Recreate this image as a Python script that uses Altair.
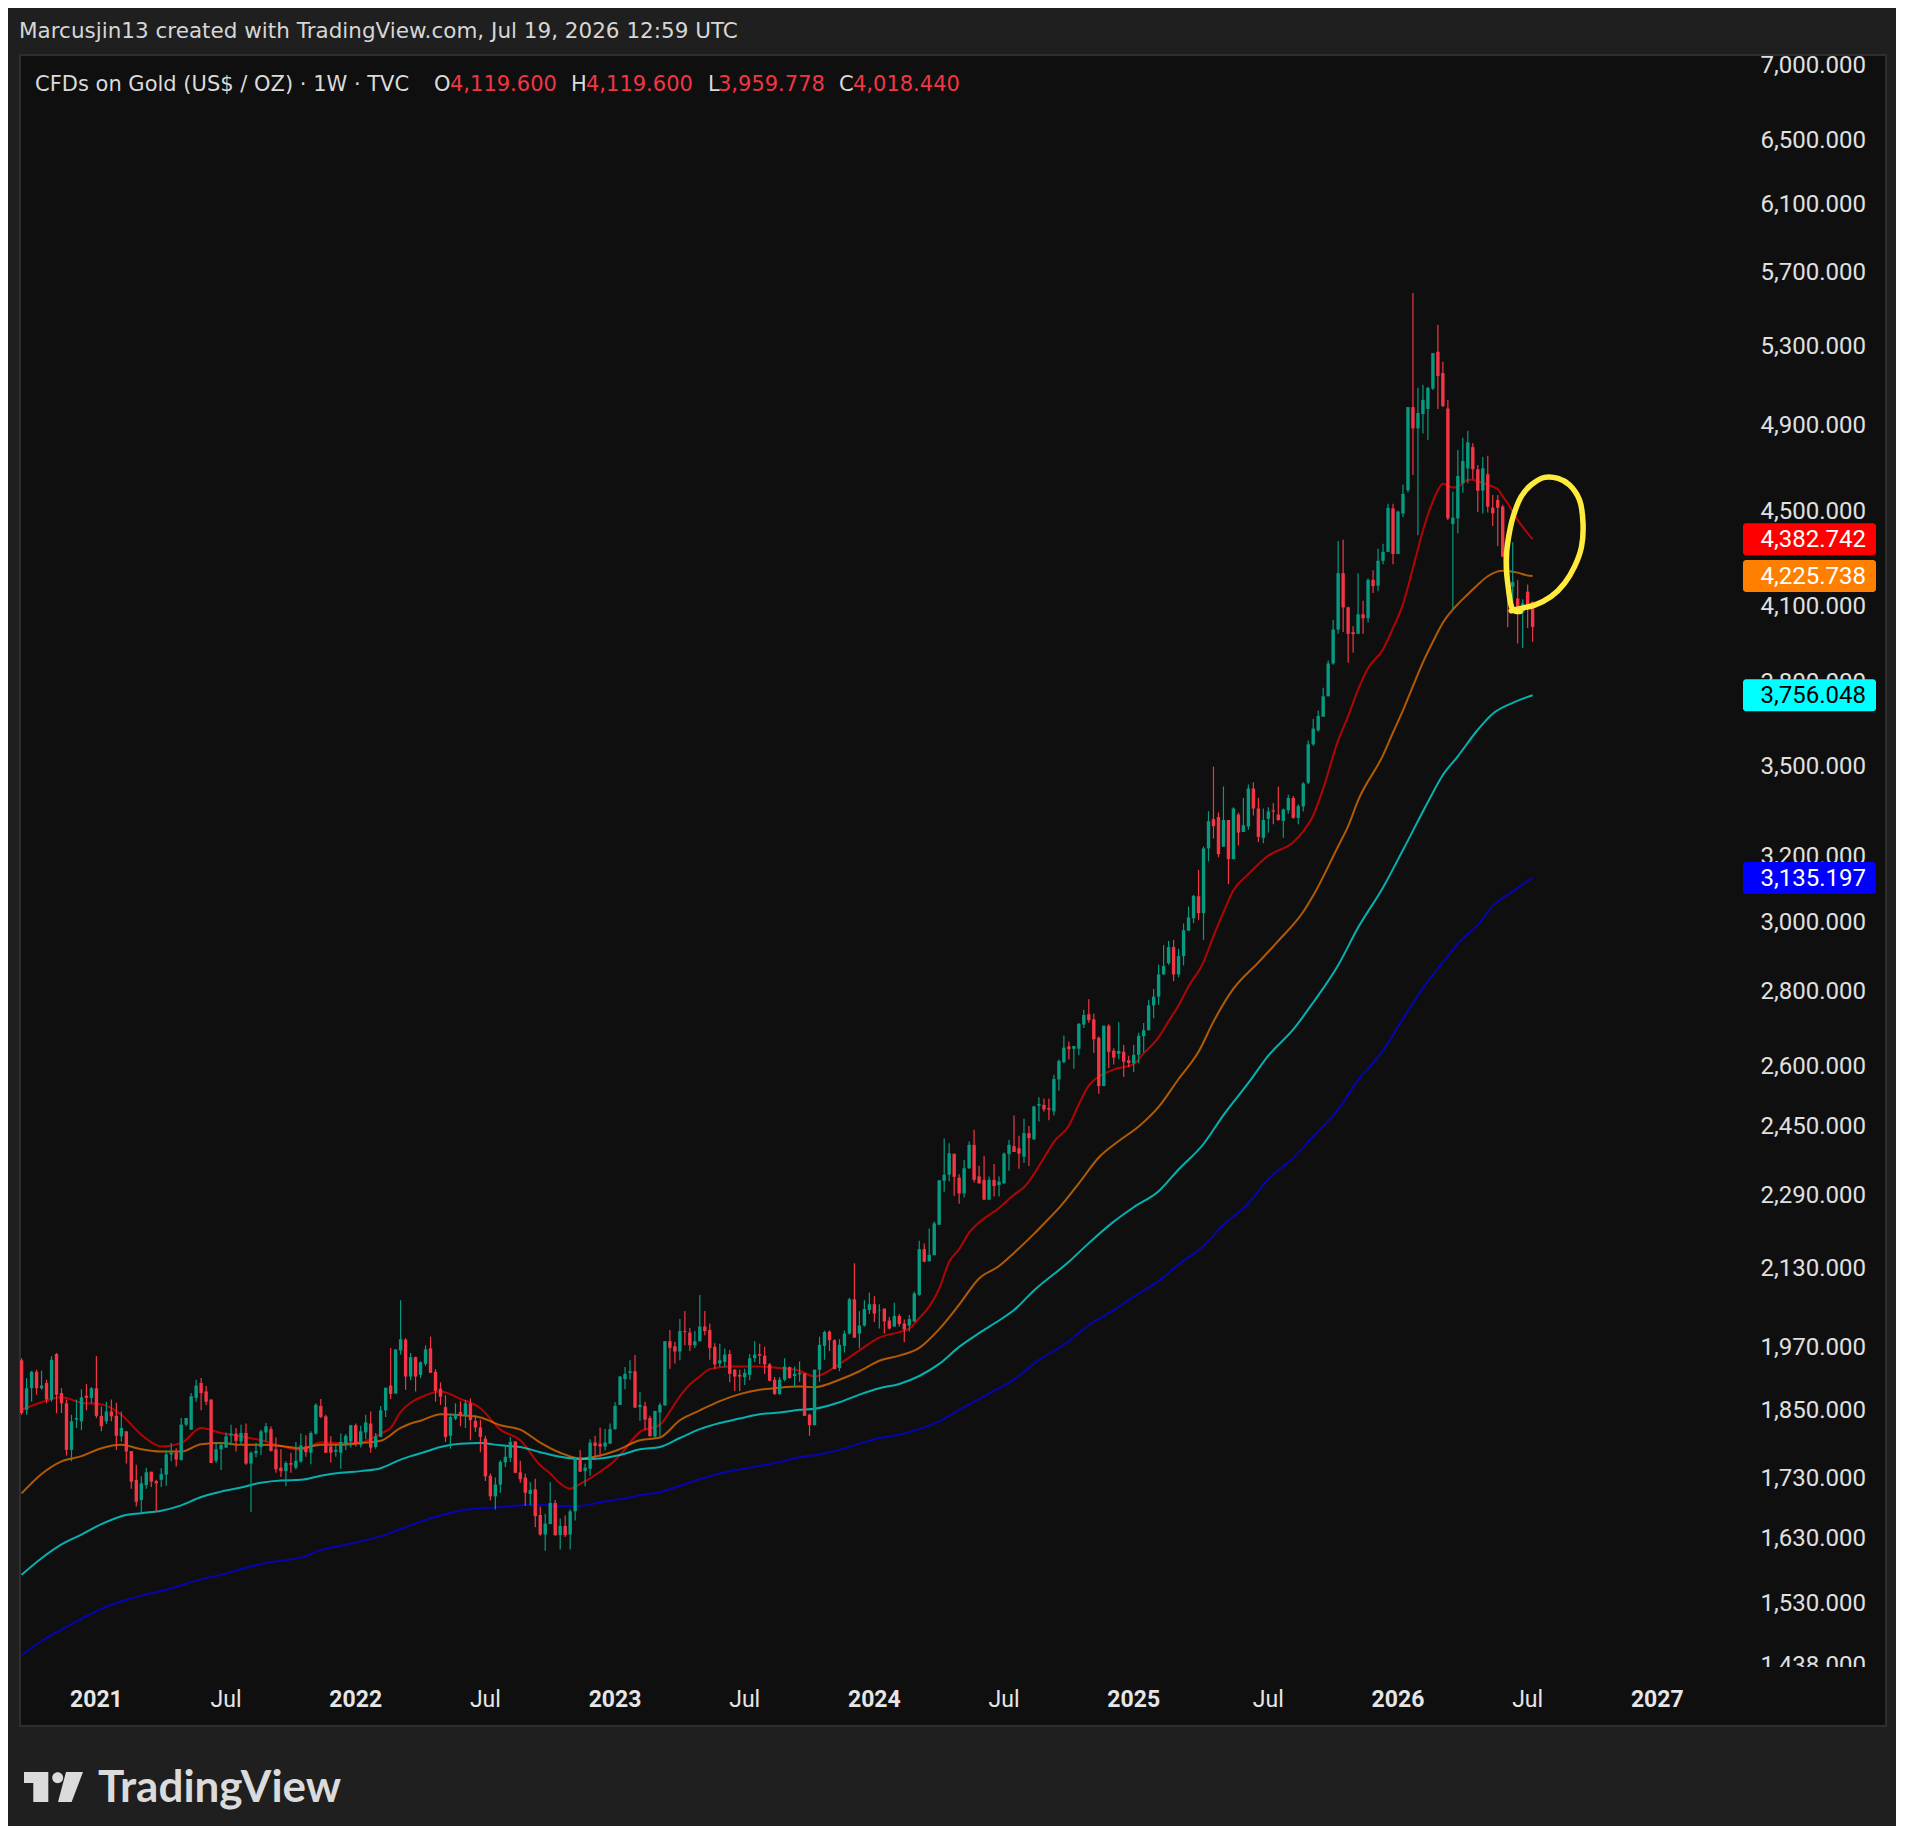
import altair as alt
import pandas as pd

# ---------------- data ----------------
FIRST_BAR = "2020-09-21"   # Monday of the first weekly bar shown

opens = [
    1946, 1853, 1893, 1924, 1893, 1903, 1872, 1958, 1884, 1865,
    1781, 1835, 1832, 1879, 1875, 1893, 1842, 1832, 1850, 1842,
    1805, 1814, 1779, 1729, 1695, 1720, 1743, 1727, 1729, 1738,
    1773, 1776, 1763, 1826, 1817, 1875, 1903, 1887, 1872, 1762,
    1782, 1785, 1807, 1810, 1796, 1811, 1757, 1775, 1786, 1812,
    1818, 1782, 1750, 1744, 1758, 1750, 1761, 1787, 1776, 1810,
    1860, 1841, 1787, 1778, 1776, 1791, 1796, 1825, 1790, 1812,
    1828, 1786, 1804, 1852, 1898, 1883, 1965, 1986, 1915, 1952,
    1918, 1939, 1969, 1924, 1892, 1858, 1806, 1837, 1849, 1843,
    1865, 1833, 1821, 1801, 1736, 1701, 1721, 1759, 1767, 1796,
    1742, 1733, 1705, 1713, 1670, 1638, 1655, 1690, 1637, 1652,
    1638, 1676, 1767, 1744, 1748, 1794, 1792, 1787, 1792, 1818,
    1862, 1910, 1922, 1925, 1858, 1860, 1838, 1805, 1848, 1861,
    1983, 1973, 1963, 2003, 2000, 1975, 1983, 2012, 2005, 1972,
    1940, 1943, 1958, 1928, 1918, 1914, 1918, 1950, 1958, 1955,
    1938, 1909, 1882, 1909, 1933, 1916, 1919, 1921, 1844, 1825,
    1928, 1974, 2002, 1985, 1931, 1974, 1998, 2067, 1998, 2014,
    2045, 2057, 2044, 2048, 2024, 2012, 2033, 2018, 2014, 2022,
    2076, 2172, 2146, 2159, 2225, 2324, 2338, 2387, 2331, 2295,
    2353, 2408, 2334, 2326, 2281, 2326, 2314, 2318, 2386, 2405,
    2400, 2380, 2436, 2421, 2503, 2505, 2497, 2489, 2569, 2613,
    2654, 2648, 2648, 2712, 2740, 2726, 2677, 2552, 2709, 2643,
    2635, 2640, 2618, 2610, 2632, 2681, 2697, 2764, 2788, 2850,
    2882, 2928, 2850, 2902, 2976, 3013, 3079, 3028, 3228, 3323,
    3330, 3234, 3320, 3194, 3338, 3281, 3299, 3425, 3358, 3262,
    3324, 3352, 3338, 3317, 3352, 3393, 3327, 3365, 3445, 3578,
    3628, 3677, 3752, 3876, 4008, 4238, 4097, 3998, 3991, 4069,
    4053, 4210, 4186, 4290, 4328, 4518, 4319, 4495, 4600, 4994,
    4890, 4960, 4985, 5087, 5275, 5165, 4987, 4449, 4474, 4632,
    4700, 4800, 4696, 4598, 4673, 4521, 4556, 4526, 4330, 4181,
    4133, 4076, 4161, 4119.600,
]
highs = [
    1950, 1912, 1926, 1928, 1926, 1909, 1954, 1960, 1893, 1872,
    1844, 1872, 1891, 1901, 1895, 1954, 1859, 1868, 1872, 1866,
    1850, 1814, 1779, 1755, 1735, 1750, 1743, 1729, 1749, 1780,
    1793, 1784, 1838, 1838, 1884, 1909, 1912, 1897, 1872, 1795,
    1795, 1812, 1826, 1820, 1826, 1828, 1778, 1793, 1817, 1829,
    1823, 1803, 1782, 1761, 1776, 1795, 1810, 1807, 1814, 1865,
    1873, 1844, 1805, 1790, 1810, 1809, 1826, 1828, 1824, 1844,
    1850, 1811, 1860, 1894, 1970, 1967, 2065, 1989, 1960, 1953,
    1944, 1975, 1992, 1929, 1904, 1880, 1846, 1865, 1869, 1871,
    1874, 1843, 1835, 1806, 1740, 1733, 1763, 1790, 1804, 1796,
    1762, 1740, 1725, 1731, 1684, 1672, 1725, 1695, 1664, 1669,
    1679, 1767, 1781, 1757, 1800, 1806, 1821, 1818, 1828, 1867,
    1916, 1933, 1946, 1956, 1886, 1868, 1842, 1851, 1866, 1983,
    2005, 1982, 2027, 2043, 2009, 2003, 2076, 2043, 2018, 1979,
    1978, 1969, 1966, 1929, 1928, 1930, 1958, 1983, 1978, 1972,
    1941, 1914, 1914, 1950, 1934, 1934, 1944, 1921, 1846, 1928,
    1992, 2004, 2004, 1987, 1987, 2004, 2070, 2142, 2043, 2065,
    2081, 2073, 2057, 2048, 2031, 2060, 2037, 2026, 2035, 2083,
    2190, 2184, 2217, 2232, 2325, 2423, 2412, 2387, 2339, 2372,
    2416, 2444, 2359, 2382, 2334, 2363, 2334, 2390, 2420, 2479,
    2430, 2471, 2453, 2503, 2524, 2521, 2521, 2581, 2620, 2683,
    2667, 2655, 2716, 2752, 2781, 2742, 2680, 2709, 2713, 2649,
    2718, 2658, 2630, 2658, 2690, 2716, 2779, 2809, 2878, 2934,
    2946, 2949, 2923, 2997, 3048, 3083, 3160, 3234, 3349, 3500,
    3345, 3432, 3320, 3362, 3344, 3393, 3439, 3446, 3393, 3358,
    3362, 3376, 3432, 3358, 3404, 3400, 3372, 3446, 3592, 3669,
    3700, 3784, 3887, 4047, 4375, 4380, 4099, 4022, 4236, 4124,
    4215, 4250, 4341, 4363, 4539, 4539, 4508, 4626, 4994, 5590,
    5090, 5105, 5096, 5268, 5418, 5223, 5029, 4593, 4787, 4845,
    4878, 4819, 4716, 4754, 4760, 4578, 4578, 4534, 4353, 4369,
    4208, 4130, 4191, 4119.600,
]
lows = [
    1844, 1844, 1868, 1881, 1890, 1865, 1868, 1847, 1847, 1771,
    1761, 1820, 1816, 1852, 1865, 1838, 1814, 1827, 1832, 1781,
    1796, 1757, 1714, 1684, 1675, 1714, 1717, 1674, 1717, 1719,
    1761, 1752, 1763, 1823, 1817, 1868, 1852, 1862, 1758, 1758,
    1746, 1785, 1789, 1778, 1790, 1755, 1675, 1768, 1772, 1796,
    1778, 1741, 1734, 1718, 1741, 1747, 1758, 1769, 1756, 1808,
    1838, 1776, 1759, 1769, 1748, 1781, 1785, 1787, 1785, 1800,
    1776, 1783, 1804, 1840, 1873, 1883, 1957, 1890, 1908, 1887,
    1912, 1935, 1922, 1868, 1862, 1795, 1783, 1834, 1823, 1820,
    1798, 1813, 1777, 1727, 1694, 1679, 1707, 1751, 1760, 1741,
    1724, 1685, 1686, 1650, 1636, 1612, 1655, 1636, 1614, 1634,
    1614, 1661, 1743, 1718, 1736, 1763, 1769, 1780, 1792, 1817,
    1862, 1891, 1909, 1857, 1833, 1817, 1805, 1802, 1805, 1861,
    1930, 1940, 1946, 1975, 1964, 1970, 1983, 1995, 1947, 1930,
    1933, 1933, 1904, 1888, 1888, 1899, 1908, 1942, 1939, 1920,
    1906, 1881, 1881, 1906, 1911, 1896, 1905, 1842, 1806, 1825,
    1905, 1947, 1964, 1929, 1925, 1961, 1996, 1990, 1969, 2012,
    2037, 2021, 2008, 1998, 2006, 2012, 2012, 1981, 2002, 2021,
    2074, 2144, 2146, 2159, 2225, 2299, 2323, 2289, 2272, 2286,
    2351, 2320, 2317, 2281, 2281, 2288, 2288, 2317, 2347, 2391,
    2352, 2365, 2358, 2420, 2464, 2488, 2467, 2479, 2541, 2610,
    2620, 2596, 2631, 2703, 2717, 2637, 2533, 2552, 2598, 2607,
    2621, 2575, 2600, 2588, 2610, 2638, 2697, 2729, 2766, 2849,
    2877, 2831, 2842, 2875, 2975, 2998, 3008, 2949, 3187, 3260,
    3200, 3234, 3116, 3194, 3238, 3281, 3288, 3335, 3249, 3245,
    3279, 3306, 3318, 3262, 3341, 3324, 3306, 3348, 3440, 3573,
    3623, 3677, 3752, 3871, 3991, 3998, 3879, 3918, 3991, 3991,
    4036, 4155, 4163, 4275, 4328, 4275, 4319, 4480, 4590, 4670,
    4400, 4865, 4834, 5079, 4985, 4995, 4466, 4087, 4407, 4589,
    4632, 4650, 4502, 4495, 4500, 4440, 4353, 4305, 4017, 4100,
    3953, 3936, 4014, 3959.778,
]
closes = [
    1847, 1893, 1924, 1893, 1898, 1872, 1947, 1881, 1865, 1781,
    1832, 1838, 1876, 1875, 1893, 1842, 1823, 1850, 1841, 1806,
    1820, 1778, 1726, 1692, 1723, 1742, 1726, 1723, 1739, 1773,
    1776, 1764, 1826, 1838, 1878, 1898, 1884, 1868, 1758, 1782,
    1790, 1805, 1810, 1797, 1811, 1757, 1776, 1779, 1814, 1823,
    1779, 1747, 1744, 1758, 1755, 1762, 1789, 1777, 1811, 1862,
    1840, 1776, 1776, 1781, 1795, 1806, 1825, 1793, 1814, 1830,
    1785, 1805, 1852, 1894, 1882, 1967, 1987, 1915, 1952, 1915,
    1942, 1967, 1922, 1888, 1877, 1804, 1840, 1845, 1842, 1865,
    1834, 1821, 1804, 1735, 1701, 1721, 1760, 1769, 1795, 1741,
    1730, 1707, 1712, 1668, 1638, 1656, 1690, 1637, 1652, 1637,
    1676, 1767, 1743, 1750, 1794, 1788, 1787, 1794, 1818, 1860,
    1915, 1920, 1925, 1857, 1862, 1835, 1805, 1851, 1862, 1983,
    1970, 1963, 2003, 2001, 1975, 1983, 2012, 2003, 1970, 1938,
    1946, 1957, 1920, 1915, 1915, 1922, 1950, 1957, 1955, 1938,
    1907, 1882, 1909, 1934, 1912, 1920, 1922, 1842, 1825, 1928,
    1976, 2001, 1985, 1929, 1976, 1998, 2067, 1990, 2014, 2047,
    2057, 2038, 2045, 2022, 2008, 2033, 2017, 2006, 2027, 2079,
    2172, 2145, 2160, 2228, 2325, 2338, 2388, 2333, 2295, 2353,
    2408, 2326, 2318, 2281, 2326, 2312, 2322, 2387, 2408, 2391,
    2387, 2436, 2424, 2501, 2507, 2494, 2493, 2570, 2616, 2651,
    2647, 2655, 2714, 2738, 2724, 2673, 2552, 2709, 2640, 2625,
    2642, 2614, 2611, 2632, 2682, 2697, 2764, 2788, 2850, 2874,
    2928, 2850, 2902, 2977, 3015, 3080, 3028, 3228, 3316, 3300,
    3210, 3320, 3194, 3358, 3279, 3303, 3425, 3358, 3265, 3320,
    3348, 3348, 3320, 3355, 3393, 3327, 3366, 3442, 3578, 3634,
    3680, 3752, 3876, 4008, 4238, 4097, 3991, 3990, 4069, 4053,
    4210, 4184, 4290, 4328, 4520, 4319, 4504, 4584, 4994, 4890,
    4965, 5030, 5090, 5268, 5150, 4999, 4474, 4477, 4665, 4735,
    4823, 4696, 4598, 4701, 4526, 4496, 4521, 4308, 4202, 4201,
    4076, 4113, 4106, 4018.440,
]

# moving averages: (bar number, value)
ema_red = [
    (0, 1853), (4, 1867), (8, 1876), (12, 1866), (16, 1863), (20, 1844), (24, 1808),
    (28, 1787), (32, 1793), (36, 1820), (40, 1811), (44, 1805), (48, 1798), (52, 1788),
    (56, 1781), (60, 1794), (64, 1793), (68, 1794), (72, 1810), (74, 1820), (76, 1849),
    (78, 1866), (80, 1876), (84, 1887), (88, 1873), (92, 1856), (96, 1817), (100, 1798),
    (104, 1754), (106, 1740), (108, 1723), (110, 1714), (112, 1722), (116, 1743),
    (119, 1763), (120, 1772), (124, 1813), (128, 1826), (130, 1850), (132, 1878),
    (134, 1900), (136, 1915), (138, 1929), (142, 1934), (148, 1934), (152, 1931),
    (156, 1926), (159, 1915), (164, 1939), (168, 1965), (172, 1990), (176, 2001),
    (178, 2008), (180, 2029), (182, 2052), (184, 2089), (186, 2145), (188, 2172),
    (190, 2208), (192, 2230), (196, 2262), (199, 2292), (201, 2309), (205, 2377),
    (207, 2415), (210, 2454), (212, 2506), (214, 2553), (219, 2594), (223, 2608),
    (225, 2636), (228, 2678), (230, 2721), (232, 2764), (234, 2816), (237, 2885),
    (239, 2960), (241, 3030), (243, 3097), (246, 3147), (250, 3205), (255, 3248),
    (257, 3283), (259, 3335), (261, 3425), (264, 3592), (266, 3679), (268, 3777),
    (270, 3858), (273, 3930), (275, 4014), (277, 4110), (278, 4180), (279, 4260),
    (280, 4340), (281, 4420), (282, 4490), (283, 4550), (284, 4600), (285, 4630),
    (286, 4620), (287, 4612), (288, 4616), (289, 4633), (290, 4648), (291, 4648),
    (292, 4641), (293, 4633), (294, 4625), (295, 4616), (296, 4605), (297, 4572),
    (298, 4541), (299, 4503), (300, 4466), (301, 4437), (302, 4408), (303, 4382.742),
]
ema_orange = [
    (0, 1706), (4, 1739), (8, 1761), (12, 1770), (16, 1784), (20, 1790), (24, 1782),
    (28, 1778), (32, 1778), (36, 1791), (40, 1793), (44, 1790), (48, 1790), (52, 1788),
    (56, 1784), (60, 1790), (64, 1790), (68, 1793), (72, 1797), (76, 1820), (78, 1828),
    (80, 1833), (84, 1845), (88, 1843), (92, 1839), (96, 1825), (100, 1817), (104, 1794),
    (108, 1776), (112, 1766), (116, 1771), (119, 1779), (124, 1798), (128, 1803),
    (132, 1834), (136, 1852), (140, 1869), (144, 1882), (148, 1890), (152, 1894),
    (156, 1896), (159, 1895), (164, 1909), (168, 1925), (172, 1945), (176, 1955),
    (180, 1970), (184, 2007), (188, 2056), (192, 2110), (196, 2136), (199, 2164),
    (203, 2205), (206, 2239), (208, 2262), (212, 2318), (216, 2378), (220, 2417),
    (224, 2452), (228, 2500), (232, 2570), (236, 2640), (239, 2720), (243, 2810),
    (248, 2884), (252, 2946), (257, 3032), (259, 3081), (264, 3235), (266, 3300),
    (268, 3385), (273, 3540), (275, 3620), (277, 3700), (279, 3790), (281, 3880),
    (283, 3960), (285, 4035), (288, 4110), (290, 4150), (292, 4190), (294, 4225),
    (297, 4248), (300, 4240), (302, 4228), (303, 4225.738),
]
ema_cyan = [
    (0, 1574), (4, 1600), (8, 1622), (12, 1638), (16, 1655), (20, 1668), (24, 1673),
    (28, 1677), (32, 1686), (36, 1700), (40, 1709), (44, 1716), (48, 1724), (52, 1728),
    (56, 1729), (60, 1736), (64, 1741), (68, 1744), (72, 1749), (76, 1764), (78, 1770),
    (80, 1775), (84, 1786), (88, 1792), (92, 1793), (96, 1789), (100, 1786), (104, 1777),
    (108, 1769), (112, 1765), (116, 1766), (120, 1772), (124, 1782), (128, 1786),
    (132, 1802), (136, 1818), (140, 1829), (144, 1837), (148, 1845), (152, 1848),
    (156, 1853), (159, 1855), (164, 1867), (168, 1881), (172, 1893), (176, 1901),
    (180, 1916), (184, 1939), (188, 1972), (192, 1999), (196, 2024), (199, 2045),
    (203, 2085), (210, 2145), (214, 2185), (219, 2232), (223, 2264), (228, 2300),
    (232, 2350), (237, 2410), (241, 2480), (246, 2560), (250, 2630), (255, 2699),
    (259, 2772), (264, 2876), (268, 2985), (273, 3106), (277, 3223), (282, 3380),
    (285, 3471), (288, 3536), (292, 3630), (295, 3688), (299, 3728), (303, 3756.048),
]
ema_blue = [
    (0, 1454), (4, 1474), (8, 1491), (12, 1507), (16, 1522), (20, 1533), (24, 1542),
    (28, 1549), (32, 1558), (36, 1567), (40, 1574), (44, 1583), (48, 1591), (52, 1596),
    (56, 1601), (60, 1613), (64, 1620), (68, 1627), (72, 1635), (76, 1647), (80, 1659),
    (84, 1669), (88, 1677), (92, 1681), (96, 1683), (100, 1686), (104, 1687), (108, 1685),
    (112, 1685), (116, 1691), (120, 1696), (124, 1703), (128, 1708), (132, 1719),
    (136, 1730), (140, 1740), (144, 1747), (148, 1753), (152, 1760), (156, 1768),
    (160, 1773), (164, 1781), (168, 1792), (172, 1802), (176, 1808), (180, 1818),
    (184, 1832), (188, 1853), (192, 1873), (196, 1893), (199, 1909), (203, 1940),
    (210, 1983), (214, 2015), (219, 2045), (223, 2072), (228, 2105), (232, 2139),
    (237, 2179), (241, 2225), (246, 2273), (250, 2328), (255, 2377), (259, 2428),
    (264, 2494), (268, 2567), (273, 2643), (277, 2728), (282, 2831), (285, 2884),
    (288, 2938), (292, 2993), (295, 3049), (299, 3094), (303, 3135.197),
]

# hand-drawn yellow loop: (bar number, price)
yellow_loop = [
    (300.5, 4080), (299.1, 4086), (298.1, 4181), (297.7, 4294), (298.2, 4394),
    (299.1, 4482), (300.7, 4571), (302.7, 4624), (305.4, 4659), (308.1, 4654),
    (310.4, 4624), (312.4, 4556), (313.1, 4452), (312.8, 4350), (311.4, 4265),
    (309.4, 4196), (306.7, 4141), (303.4, 4106), (300.7, 4093), (298.7, 4083),
]

price_ticks = [7000, 6500, 6100, 5700, 5300, 4900, 4500, 4100, 3800, 3500, 3200,
               3000, 2800, 2600, 2450, 2290, 2130, 1970, 1850, 1730, 1630, 1530, 1438]
time_tick_dates = ["2021-01-04", "2021-07-05", "2022-01-03", "2022-07-04", "2023-01-02",
                   "2023-07-03", "2024-01-01", "2024-07-01", "2024-12-30", "2025-07-07",
                   "2026-01-05", "2026-07-06", "2027-01-04"]
time_tick_text = ["2021", "Jul", "2022", "Jul", "2023", "Jul", "2024", "Jul", "2025",
                  "Jul", "2026", "Jul", "2027"]

ma_names = ["EMA red", "EMA orange", "EMA cyan", "EMA blue"]
ma_last = [4382.742, 4225.738, 3756.048, 3135.197]

title_line = "Marcusjin13 created with TradingView.com, Jul 19, 2026 12:59 UTC"
symbol_line = "CFDs on Gold (US$ / OZ) · 1W · TVC"

# ---------------- styles / layout ----------------
W, H = 1866, 1671
BG = "#1f1f1f"
PANE = "#0f0f0f"
TXT = "#dbdbdb"
UP, DOWN = "#089981", "#f23645"
MA_COLORS = ["#ff0000", "#ff7f00", "#00ffff", "#0000ff"]
MA_TEXT = ["#ffffff", "#ffffff", "#000000", "#ffffff"]
LABEL_FONT = "Roboto"
HEAD_FONT = "DejaVu Sans"

t0 = pd.Timestamp(FIRST_BAR)


def bar_date(w):
    return t0 + pd.Timedelta(days=7 * w)


x_scale = alt.Scale(domain=[alt.DateTime(year=2020, month=9, date=18, hours=18),
                            alt.DateTime(year=2027, month=11, date=21)])
y_scale = alt.Scale(type="log", domain=[1355.5, 7073.7], nice=False, zero=False)

n = len(closes)
candles = pd.DataFrame({
    "date": [bar_date(i) for i in range(n)],
    "open": opens, "high": highs, "low": lows, "close": closes,
})
candles["body_lo"] = candles[["open", "close"]].min(axis=1)
candles["body_hi"] = candles[["open", "close"]].max(axis=1)
candles["col"] = [UP if c >= o else DOWN for o, c in zip(opens, closes)]

X = alt.X("date:T", scale=x_scale, axis=None)

wicks = alt.Chart(candles).mark_rule(strokeWidth=1.2).encode(
    x=X,
    y=alt.Y("low:Q", scale=y_scale, axis=None),
    y2="high:Q",
    color=alt.Color("col:N", scale=None),
)
bodies = alt.Chart(candles).mark_rule(strokeWidth=3.4).encode(
    x=X,
    y=alt.Y("body_lo:Q", scale=y_scale, axis=None),
    y2="body_hi:Q",
    color=alt.Color("col:N", scale=None),
)

ma_rows = []
for name, pairs in zip(ma_names, [ema_red, ema_orange, ema_cyan, ema_blue]):
    for w, v in pairs:
        ma_rows.append({"date": bar_date(w), "value": v, "series": name})
ma_df = pd.DataFrame(ma_rows)

ma_lines = alt.Chart(ma_df).mark_line(strokeWidth=2, opacity=0.68, interpolate="monotone").encode(
    x=X,
    y=alt.Y("value:Q", scale=y_scale, axis=None),
    color=alt.Color("series:N", scale=alt.Scale(domain=ma_names, range=MA_COLORS), legend=None),
)

loop_df = pd.DataFrame({
    "date": [bar_date(w) for w, _ in yellow_loop],
    "value": [p for _, p in yellow_loop],
    "k": list(range(len(yellow_loop))),
})
loop = alt.Chart(loop_df).mark_line(
    color="#ffeb3b", strokeWidth=5.5, interpolate="catmull-rom",
    strokeCap="round", strokeJoin="round",
).encode(
    x=X,
    y=alt.Y("value:Q", scale=y_scale, axis=None),
    order="k:Q",
)

# price scale labels
tick_df = pd.DataFrame({"v": price_ticks})
price_labels = alt.Chart(tick_df).mark_text(
    align="right", baseline="middle", font=LABEL_FONT, fontSize=24, color="#e0e0e0",
).encode(
    x=alt.value(W - 20),
    y=alt.Y("v:Q", scale=y_scale, axis=None),
    text=alt.Text("v:Q", format=",.3f"),
)

dummy = pd.DataFrame({"a": [0]})
pane_edge = alt.Chart(dummy).mark_rect(color=PANE).encode(
    x=alt.value(1690), x2=alt.value(W - 2), y=alt.value(1612), y2=alt.value(H - 2),
)

box_df = pd.DataFrame({
    "v": ma_last,
    "fill": MA_COLORS,
    "tc": MA_TEXT,
})
boxes = alt.Chart(box_df).mark_rect(yOffset=-16, y2Offset=16, cornerRadius=3).encode(
    x=alt.value(1723), x2=alt.value(1856),
    y=alt.Y("v:Q", scale=y_scale, axis=None), y2="v:Q",
    color=alt.Color("fill:N", scale=None),
)
box_text = alt.Chart(box_df).mark_text(
    align="right", baseline="middle", font=LABEL_FONT, fontSize=24, dy=1,
).encode(
    x=alt.value(W - 20),
    y=alt.Y("v:Q", scale=y_scale, axis=None),
    text=alt.Text("v:Q", format=",.3f"),
    color=alt.Color("tc:N", scale=None),
)

# time scale labels
tt_df = pd.DataFrame({
    "date": pd.to_datetime(time_tick_dates),
    "t": time_tick_text,
    "year": [s != "Jul" for s in time_tick_text],
})
time_years = alt.Chart(tt_df).transform_filter("datum.year").mark_text(
    baseline="middle", font=LABEL_FONT, fontSize=23, fontWeight="bold", color="#e6e6e6",
).encode(x=X, y=alt.value(1645), text="t:N")
time_months = alt.Chart(tt_df).transform_filter("!datum.year").mark_text(
    baseline="middle", font=LABEL_FONT, fontSize=23, color="#e6e6e6",
).encode(x=X, y=alt.value(1645), text="t:N")

# header
head1 = alt.Chart(dummy).mark_text(
    align="left", baseline="middle", font=HEAD_FONT, fontSize=21.5, color="#d6d6d6",
    text=title_line,
).encode(x=alt.value(-1), y=alt.value(-23.5))

head_pieces = [symbol_line, "O", f"{opens[-1]:,.3f}", "H", f"{highs[-1]:,.3f}",
               "L", f"{lows[-1]:,.3f}", "C", f"{closes[-1]:,.3f}"]
head_colors = [TXT, TXT, DOWN, TXT, DOWN, TXT, DOWN, TXT, DOWN]
head_x = [15, 414, 430, 551, 566, 688, 698, 819, 833]
head2 = alt.Chart(pd.DataFrame({"t": head_pieces, "c": head_colors, "px": head_x})).mark_text(
    align="left", baseline="middle", font=HEAD_FONT, fontSize=21,
).encode(
    x=alt.X("px:Q", scale=None),
    y=alt.value(30),
    text="t:N",
    color=alt.Color("c:N", scale=None),
)

LOGO_PATH = ("M-1,-0.508L-0.176,-0.508L-0.176,0.508L-0.685,0.508L-0.685,-0.136L-1,-0.136Z"
             "M0.424,-0.508L1,-0.508L0.614,0.508L0.153,0.508Z"
             "M-0.044,-0.315A0.186,0.186 0 1,0 0.328,-0.315A0.186,0.186 0 1,0 -0.044,-0.315Z")
logo = alt.Chart(dummy).mark_point(
    shape=LOGO_PATH, filled=True, size=3481, color=TXT, opacity=1, strokeWidth=0,
).encode(x=alt.value(33.5), y=alt.value(1732))
logo_text = alt.Chart(dummy).mark_text(
    align="left", baseline="alphabetic", font="Lato", fontSize=44, fontWeight="bold",
    color=TXT, text="TradingView",
).encode(x=alt.value(78), y=alt.value(1747))

chart = alt.layer(
    ma_lines, wicks, bodies, loop, price_labels, pane_edge, boxes, box_text,
    time_years, time_months, head1, head2, logo, logo_text,
).properties(
    width=W, height=H,
    autosize="none",
    padding={"left": 12, "top": 47, "right": 10, "bottom": 100},
    background=BG,
).configure_view(fill=PANE, stroke="#2e2e2e", strokeWidth=2)

chart.save("out.html", embed_options={"renderer": "svg", "actions": False})
